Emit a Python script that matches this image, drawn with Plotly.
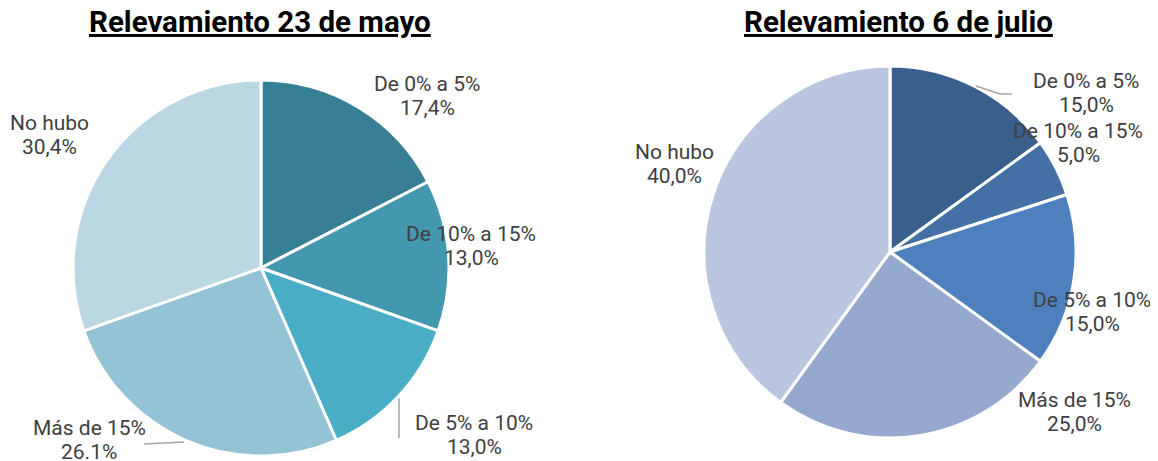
import plotly.graph_objects as go

W, H = 1158, 461
OFF = 8  # browser default body margin

# ---- data ----
categories = ["De 0% a 5%", "De 10% a 15%", "De 5% a 10%", "Más de 15%", "No hubo"]
mayo_values = [17.4, 13.0, 13.0, 26.1, 30.4]
mayo_pct_text = ["17,4%", "13,0%", "13,0%", "26.1%", "30,4%"]
julio_values = [15.0, 5.0, 15.0, 25.0, 40.0]
julio_pct_text = ["15,0%", "5,0%", "15,0%", "25,0%", "40,0%"]
titles = ["Relevamiento 23 de mayo", "Relevamiento 6 de julio"]

mayo_colors = ["#367F94", "#4397AE", "#4AADC6", "#93C3D5", "#BAD7E3"]
julio_colors = ["#3A5F8D", "#4470A5", "#4D80BC", "#95A9CF", "#BAC6E0"]

# label anchor positions (pixel) for each category: (center x, first line center y)
mayo_label_pos = [(427, 84), (471, 234), (474, 423), (89, 428), (49, 123)]
julio_label_pos = [(1086, 81), (1078, 131), (1092, 300), (1074, 400), (674, 152)]
LINE_GAP = 24

def px(x, y):
    return (x - OFF) / W, 1 - (y - OFF) / H

fig = go.Figure()

def add_pie(values, colors, dom_px):
    x0, x1, y0, y1 = dom_px
    (dx0, dy1), (dx1, dy0) = px(x0, y0), px(x1, y1)
    fig.add_trace(go.Pie(
        labels=categories, values=values, sort=False, direction="clockwise",
        rotation=0, textinfo="none", hoverinfo="label+percent",
        marker=dict(colors=colors, line=dict(color="white", width=3)),
        domain=dict(x=[dx0, dx1], y=[dy0, dy1]),
        showlegend=False,
    ))

add_pie(mayo_values, mayo_colors, (73, 449, 80, 456))
add_pie(julio_values, julio_colors, (704, 1076, 66, 438))

LABEL_FONT = dict(family="Roboto", size=21, color="#404040")

def add_labels(pos, pct):
    for (cx, cy), name, p in zip(pos, categories, pct):
        for i, t in enumerate([name, p]):
            x, y = px(cx, cy + i * LINE_GAP)
            fig.add_annotation(x=x, y=y, xref="paper", yref="paper", text=t,
                               showarrow=False, xanchor="center", yanchor="middle",
                               font=LABEL_FONT)

add_labels(mayo_label_pos, mayo_pct_text)
add_labels(julio_label_pos, julio_pct_text)

for t, cx in zip(titles, [259.5, 898]):
    x, y = px(cx, 22)
    fig.add_annotation(x=x, y=y, xref="paper", yref="paper",
                       text=f"<b><u>{t}</u></b>", showarrow=False,
                       xanchor="center", yanchor="middle",
                       font=dict(family="Roboto", size=29.5, color="#000000"))

# leader lines
leaders = [
    [(144, 444), (184, 442)],
    [(399, 398), (399, 438)],
    [(976, 86), (1000, 94), (1012, 94)],
]
for pts in leaders:
    for (xa, ya), (xb, yb) in zip(pts[:-1], pts[1:]):
        a = px(xa, ya); b = px(xb, yb)
        fig.add_shape(type="line", xref="paper", yref="paper",
                      x0=a[0], y0=a[1], x1=b[0], y1=b[1],
                      line=dict(color="#A6A6A6", width=1.5))

fig.update_layout(width=W, height=H, margin=dict(l=0, r=0, t=0, b=0),
                  paper_bgcolor="white", plot_bgcolor="white",
                  font=dict(family="Roboto"))

fig.write_html("out.html")
